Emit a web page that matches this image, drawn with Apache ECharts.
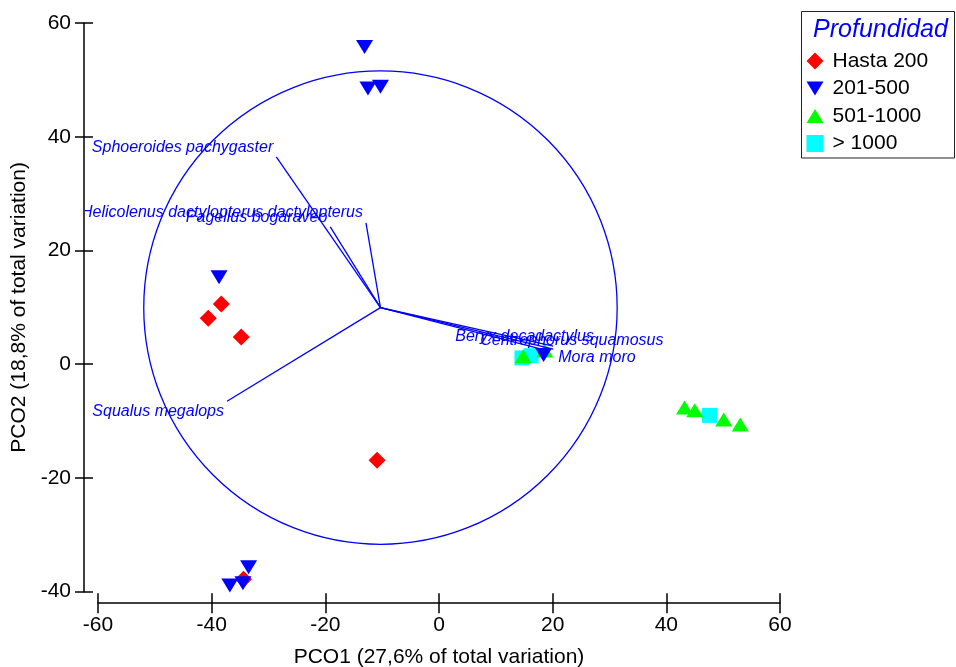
<!DOCTYPE html>
<html>
<head>
<meta charset="utf-8">
<script src="https://cdn.jsdelivr.net/npm/echarts@6/dist/echarts.min.js"></script>
<style>
html,body{margin:0;padding:0;background:#fff;}
#chart{width:956px;height:667px;}
</style>
</head>
<body>
<div id="chart"></div>
<script>
// ---------- data ----------
const xTicks = [-60, -40, -20, 0, 20, 40, 60];
const yTicks = [-40, -20, 0, 20, 40, 60];
const xTitle = 'PCO1 (27,6% of total variation)';
const yTitle = 'PCO2 (18,8% of total variation)';
const legendTitle = 'Profundidad';
const groupNames = ['Hasta 200', '201-500', '501-1000', '> 1000'];

const hasta200 = [[-38.3, 10.6], [-40.6, 8.1], [-34.8, 4.8], [-10.9, -16.9], [-34.4, -37.8]];
const d201_500 = [[-13.1, 55.8], [-12.5, 48.5], [-10.3, 48.8], [-38.7, 15.3], [18.4, 1.6],
                  [-33.5, -35.7], [-36.8, -38.9], [-34.5, -38.5]];
const d501_1000 = [[43.2, -7.6], [45.0, -8.1], [50.1, -9.7], [53.0, -10.6], [14.8, 1.4], [18.6, 2.4]];
const mas1000 = [[47.6, -9.0], [14.6, 1.1], [16.2, 1.5]];

const circleCenter = [-10.3, 9.95];
const circleRadius = 41.65;

const vectorNames = ['Sphoeroides pachygaster', 'Helicolenus dactylopterus dactylopterus',
  'Pagellus bogaraveo', 'Squalus megalops', 'Beryx decadactylus',
  'Centrophorus squamosus', 'Mora moro'];
const vectorX = [-28.63, -12.85, -19.13, -37.3, 20.1, 20.1, 19.4];
const vectorY = [36.48, 24.86, 24.16, -6.51, 3.17, 2.64, 2.29];

// ---------- styles ----------
const FONT = "'Liberation Sans', Arial, sans-serif";
const BLUE = '#0000ff';
const labelAlign = ['right', 'right', 'right', 'right', 'left', 'left', 'left'];
const labelDx = [-3, -3, -3, -3, -98, -73, 9];
const labelDy = [-9, -10, -9, 10, -10, -9, 6];

const triDown = 'path://M0,0L17,0L8.5,14Z';
const triUp = 'path://M8.5,0L17,14L0,14Z';
const symbols = ['diamond', triDown, triUp, 'rect'];
const symbolSizes = [17, [17, 14], [17, 14], 15];
const colors = ['#ff0000', '#0000ff', '#00ff00', '#00ffff'];
const zs = [3, 5, 4, 2];
const groupData = [hasta200, d201_500, d501_1000, mas1000];

const chart = echarts.init(document.getElementById('chart'), null, {renderer: 'canvas'});

function axisPair(kind) {
  const isX = kind === 'x';
  const ticks = isX ? xTicks : yTicks;
  const base = {
    type: 'value',
    min: ticks[0], max: ticks[ticks.length - 1], interval: 20,
    position: isX ? 'bottom' : 'left',
    offset: isX ? 11.5 : 14,
    splitLine: {show: false}
  };
  const main = Object.assign({}, base, {
    name: isX ? xTitle : yTitle,
    nameLocation: 'middle',
    nameGap: isX ? 44 : 49,
    nameTextStyle: {fontFamily: FONT, fontSize: 21, color: '#000'},
    axisLine: {show: true, onZero: false, lineStyle: {color: '#000', width: 1.5}},
    axisTick: {show: true, inside: false, length: isX ? 10 : 9, lineStyle: {color: '#000', width: 1.5}},
    axisLabel: {show: true, margin: isX ? 12 : 13, fontFamily: FONT, fontSize: 21, color: '#000'}
  });
  const inner = Object.assign({}, base, {
    axisLine: {show: false, onZero: false},
    axisTick: {show: true, inside: true, length: isX ? 10 : 9, lineStyle: {color: '#000', width: 1.5}},
    axisLabel: {show: false}
  });
  return [main, inner];
}

const scatterSeries = groupNames.map((name, i) => ({
  name: name,
  type: 'scatter',
  xAxisIndex: 0, yAxisIndex: 0,
  symbol: symbols[i],
  symbolSize: symbolSizes[i],
  symbolKeepAspect: false,
  itemStyle: {color: colors[i], opacity: 1},
  z: zs[i],
  data: groupData[i],
  silent: true
}));

const vectorData = vectorNames.map((n, i) => [vectorX[i], vectorY[i], i]);

const option = {
  animation: false,
  backgroundColor: '#fff',
  grid: {left: 98, right: 176, top: 23, bottom: 75.3, containLabel: false, outerBoundsMode: 'none'},
  xAxis: axisPair('x'),
  yAxis: axisPair('y'),
  legend: {
    orient: 'vertical',
    left: 806.5, top: 50.5,
    padding: 0,
    itemWidth: 17, itemHeight: 17,
    itemGap: 6.5,
    symbolKeepAspect: true,
    selectedMode: false,
    textStyle: {fontFamily: FONT, fontSize: 21, color: '#000', lineHeight: 21, padding: [0, 0, 0, 4]},
    data: groupNames.map((n, i) => ({name: n, icon: symbols[i]}))
  },
  graphic: [
    {type: 'rect', shape: {x: 801.5, y: 11.5, width: 153, height: 146.5},
     style: {fill: 'none', stroke: '#222', lineWidth: 1}, z: 10},
    {type: 'text', x: 880.5, y: 30, z: 11,
     style: {text: legendTitle, fontFamily: FONT, fontStyle: 'italic', fontSize: 25,
             fill: BLUE, align: 'center', verticalAlign: 'middle'}}
  ],
  series: [
    {
      type: 'custom',
      xAxisIndex: 0, yAxisIndex: 0,
      z: 1, silent: true, clip: false,
      data: [[circleCenter[0], circleCenter[1], circleRadius]],
      renderItem: function (params, api) {
        const c = api.coord([api.value(0), api.value(1)]);
        const r = api.size([api.value(2), 0])[0];
        return {type: 'circle', shape: {cx: c[0], cy: c[1], r: r},
                style: {fill: 'none', stroke: BLUE, lineWidth: 1.3}};
      }
    },
    ...scatterSeries,
    {
      type: 'custom',
      xAxisIndex: 0, yAxisIndex: 0,
      z: 8, silent: true, clip: false,
      data: vectorData,
      renderItem: function (params, api) {
        const i = api.value(2);
        const o = api.coord(circleCenter);
        const e = api.coord([api.value(0), api.value(1)]);
        const cs = params.coordSys;
        return {
          type: 'group',
          clipPath: {type: 'rect', shape: {x: cs.x - 13, y: cs.y - 20, width: cs.width + 200, height: cs.height + 40}},
          children: [
            {type: 'line', shape: {x1: o[0], y1: o[1], x2: e[0], y2: e[1]},
             style: {stroke: BLUE, lineWidth: 1.3}},
            {type: 'text', x: e[0] + labelDx[i], y: e[1] + labelDy[i],
             style: {text: vectorNames[i], fontFamily: FONT, fontStyle: 'italic', fontSize: 16,
                     fill: BLUE, align: labelAlign[i], verticalAlign: 'middle'}}
          ]
        };
      }
    }
  ]
};
chart.setOption(option);
</script>
</body>
</html>
